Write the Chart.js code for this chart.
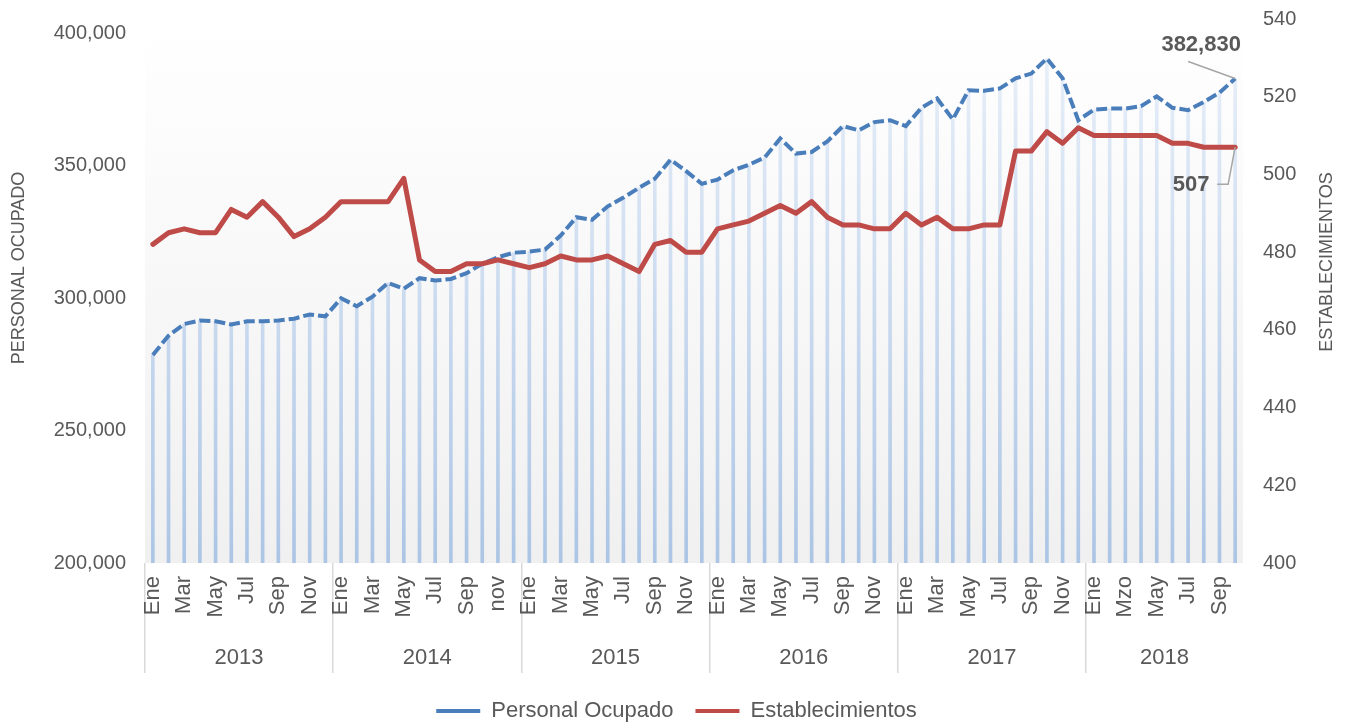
<!DOCTYPE html>
<html>
<head>
<meta charset="utf-8">
<script src="https://cdn.jsdelivr.net/npm/chart.js@4.4.1/dist/chart.umd.min.js"></script>
<style>
html,body{margin:0;padding:0;background:#ffffff;}
#wrap{width:1353px;height:725px;position:relative;}
</style>
</head>
<body>
<div id="wrap"><canvas id="c" width="1353" height="725"></canvas></div>
<script>
// ---- data ----
const monthLabels = [
  'Ene','Feb','Mar','Abr','May','Jun','Jul','Ago','Sep','Oct','Nov','Dic',
  'Ene','Feb','Mar','Abr','May','Jun','Jul','Ago','Sep','Oct','nov','Dic',
  'Ene','Feb','Mar','Abr','May','Jun','Jul','Ago','Sep','Oct','Nov','Dic',
  'Ene','Feb','Mar','Abr','May','Jun','Jul','Ago','Sep','Oct','Nov','Dic',
  'Ene','Feb','Mar','Abr','May','Jun','Jul','Ago','Sep','Oct','Nov','Dic',
  'Ene','Feb','Mzo','Abr','May','Jun','Jul','Ago','Sep','Oct'
];
const yearLabels = ['2013','2014','2015','2016','2017','2018'];
const monthsPerYear = [12,12,12,12,12,10];

const personalOcupado = [
  278500,285800,290200,291500,291200,290000,291200,291200,291500,292200,293800,293100,
  299900,296900,300500,305700,303500,307500,306600,307200,309400,312900,315400,317100,
  317500,318300,323600,330500,329500,334600,337900,341600,345000,352200,347900,343100,
  344700,348200,350300,353000,360200,354500,355100,359100,364900,363300,366400,367100,
  364900,371800,375300,367400,378400,378200,379100,382900,384700,390400,382900,367100,
  371100,371500,371500,372400,376100,371800,370900,374000,377500,382830
];
const establecimientos = [
  482,485,486,485,485,491,489,493,489,484,486,489,
  493,493,493,493,499,478,475,475,477,477,478,477,
  476,477,479,478,478,479,477,475,482,483,480,480,
  486,487,488,490,492,490,493,489,487,487,486,486,
  490,487,489,486,486,487,487,506,506,511,508,512,
  510,510,510,510,510,508,508,507,507,507
];
const leftTickValues = [200000,250000,300000,350000,400000];
const rightTickValues = [400,420,440,460,480,500,520,540];

// ---- helpers ----
const FONT = "'Liberation Sans', Arial, sans-serif";
const GREY = '#595959';
const BLUE = '#4a7ebb';
const RED = '#be4b48';
const fmt = v => Number(v).toLocaleString('en-US');

// index (in month positions) where each year's label sits, derived from monthsPerYear
const yearLabelAt = {};
(function () {
  let start = 0;
  monthsPerYear.forEach((n, k) => {
    yearLabelAt[start + n / 2 - 1] = yearLabels[k];
    start += n;
  });
})();

const bgPlugin = {
  id: 'bg',
  beforeDatasetsDraw(chart) {
    const {ctx, chartArea: a} = chart;
    const g = ctx.createLinearGradient(0, a.top, 0, a.bottom);
    g.addColorStop(0, '#ffffff');
    g.addColorStop(1, '#f0f0f0');
    ctx.save();
    ctx.fillStyle = g;
    ctx.fillRect(a.left, a.top, a.right - a.left, a.bottom - a.top);
    ctx.restore();
  }
};

const labelPlugin = {
  id: 'lbls',
  afterDatasetsDraw(chart) {
    const {ctx} = chart;
    ctx.save();
    // Personal Ocupado last value
    const mb = chart.getDatasetMeta(1);
    const pb = mb.data[mb.data.length - 1];
    ctx.strokeStyle = '#a6a6a6';
    ctx.lineWidth = 1.5;
    ctx.beginPath();
    ctx.moveTo(pb.x - 47, pb.y - 17);
    ctx.lineTo(pb.x, pb.y);
    ctx.stroke();
    ctx.fillStyle = GREY;
    ctx.font = "bold 22px " + FONT;
    ctx.textAlign = 'center';
    ctx.textBaseline = 'middle';
    ctx.fillText(fmt(personalOcupado[personalOcupado.length-1]), pb.x - 34, pb.y - 34);
    // Establecimientos last value
    const mr = chart.getDatasetMeta(2);
    const pr = mr.data[mr.data.length - 1];
    ctx.beginPath();
    ctx.moveTo(pr.x - 18, pr.y + 37);
    ctx.lineTo(pr.x - 7, pr.y + 37);
    ctx.lineTo(pr.x, pr.y);
    ctx.stroke();
    ctx.fillText(fmt(establecimientos[establecimientos.length-1]), pr.x - 44, pr.y + 38);
    // axis titles (both read bottom-to-top)
    ctx.font = "18px " + FONT;
    ctx.fillStyle = GREY;
    ctx.translate(19, 268);
    ctx.rotate(-Math.PI/2);
    ctx.fillText('PERSONAL OCUPADO', 0, 0);
    ctx.setTransform(1,0,0,1,0,0);
    ctx.translate(1327, 262);
    ctx.rotate(-Math.PI/2);
    ctx.fillText('ESTABLECIMIENTOS', 0, 0);
    ctx.restore();
  }
};

const barGradient = (context) => {
  const chart = context.chart;
  const a = chart.chartArea;
  if (!a) return 'rgba(180,200,230,0.8)';
  const g = chart.ctx.createLinearGradient(0, a.top, 0, a.bottom);
  g.addColorStop(0, 'rgba(236,242,250,1)');
  g.addColorStop(1, 'rgba(172,197,229,1)');
  return g;
};

new Chart(document.getElementById('c'), {
  type: 'bar',
  data: {
    labels: monthLabels,
    datasets: [
      {
        type: 'bar',
        label: 'drop',
        data: personalOcupado,
        yAxisID: 'y',
        backgroundColor: barGradient,
        borderWidth: 0,
        barThickness: 3,
        order: 5
      },
      {
        type: 'line',
        label: 'Personal Ocupado',
        data: personalOcupado,
        yAxisID: 'y',
        borderColor: BLUE,
        backgroundColor: BLUE,
        borderWidth: 4,
        borderDash: [11, 4],
        borderCapStyle: 'butt',
        pointRadius: 0,
        tension: 0,
        fill: false,
        order: 2
      },
      {
        type: 'line',
        label: 'Establecimientos',
        data: establecimientos,
        yAxisID: 'y1',
        borderColor: RED,
        backgroundColor: RED,
        borderWidth: 5,
        borderJoinStyle: 'round',
        borderCapStyle: 'round',
        pointRadius: 0,
        tension: 0,
        fill: false,
        order: 1
      }
    ]
  },
  options: {
    responsive: false,
    animation: false,
    devicePixelRatio: 1,
    events: [],
    layout: { padding: { top: 19, left: 0, right: 0, bottom: -7 } },
    plugins: {
      tooltip: { enabled: false },
      legend: {
        position: 'bottom',
        labels: {
          font: { family: FONT, size: 22 },
          color: GREY,
          boxWidth: 44,
          boxHeight: 4,
          padding: 22,
          generateLabels: (chart) => chart.data.datasets
            .map((ds, i) => ({ ds, i }))
            .filter(o => o.ds.type === 'line')
            .map(o => ({
              text: o.ds.label,
              fillStyle: o.ds.borderColor,
              strokeStyle: o.ds.borderColor,
              lineWidth: 0,
              hidden: false,
              datasetIndex: o.i,
              fontColor: GREY
            }))
        }
      }
    },
    scales: {
      x: {
        type: 'category',
        position: 'bottom',
        offset: true,
        border: { display: false },
        grid: {
          display: true,
          offset: true,
          drawOnChartArea: false,
          drawTicks: true,
          tickLength: 110,
          lineWidth: 1.5,
          color: (ctx) => (ctx.index % 12 === 0 || ctx.index === monthLabels.length) ? '#d9d9d9' : 'rgba(0,0,0,0)'
        },
        ticks: {
          autoSkip: false,
          minRotation: 90,
          maxRotation: 90,
          padding: -97,
          color: GREY,
          font: { family: FONT, size: 22 },
          callback: (v, i) => (i % 2 === 0 ? monthLabels[i] : '')
        },
        afterFit: (s) => { s.height = 62; }
      },
      x2: {
        type: 'category',
        position: 'bottom',
        offset: true,
        labels: monthLabels,
        border: { display: false },
        grid: { display: false, drawTicks: false },
        ticks: {
          autoSkip: false,
          maxRotation: 0,
          minRotation: 0,
          padding: 20,
          labelOffset: 7.8,
          color: GREY,
          font: { family: FONT, size: 22 },
          callback: (v, i) => (yearLabelAt[i] !== undefined ? yearLabelAt[i] : '')
        },
        afterFit: (s) => { s.height = 53; }
      },
      y: {
        type: 'linear',
        position: 'left',
        min: 200000,
        max: 405300,
        border: { display: false },
        grid: { display: true, drawOnChartArea: false, drawTicks: true, tickLength: 17, color: 'rgba(0,0,0,0)' },
        afterBuildTicks: (s) => { s.ticks = leftTickValues.map(v => ({ value: v })); },
        ticks: {
          padding: 2,
          color: GREY,
          font: { family: FONT, size: 20 },
          callback: (v) => fmt(v)
        },
        afterFit: (s) => { s.width = 145; }
      },
      y1: {
        type: 'linear',
        position: 'right',
        min: 400,
        max: 540,
        border: { display: false },
        grid: { display: true, drawOnChartArea: false, drawTicks: true, tickLength: 18, color: 'rgba(0,0,0,0)' },
        afterBuildTicks: (s) => { s.ticks = rightTickValues.map(v => ({ value: v })); },
        ticks: {
          padding: 2,
          color: GREY,
          font: { family: FONT, size: 20 },
          callback: (v) => fmt(v)
        },
        afterFit: (s) => { s.width = 110; }
      }
    }
  },
  plugins: [bgPlugin, labelPlugin]
});
</script>
</body>
</html>
